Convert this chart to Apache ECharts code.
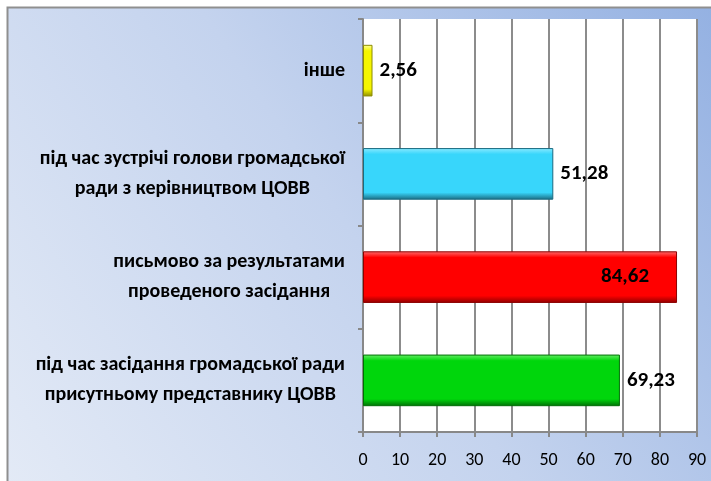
<!DOCTYPE html>
<html>
<head>
<meta charset="utf-8">
<script src="https://cdn.jsdelivr.net/npm/echarts@6/dist/echarts.min.js"></script>
<style>
html,body{margin:0;padding:0;background:#fff;}
#chart{width:711px;height:481px;}
</style>
</head>
<body>
<div id="chart"></div>
<script>
// Data (top to bottom as shown)
var categories = [
  'інше',
  'під час зустрічі голови громадської\nради з керівництвом ЦОВВ',
  'письмово за результатами\nпроведеного засідання',
  'під час засідання громадської ради\nприсутньому представнику ЦОВВ'
];
var values = [2.56, 51.28, 84.62, 69.23];
var labelInside = [false, false, true, false];
var xTicks = [0, 10, 20, 30, 40, 50, 60, 70, 80, 90];

var palette = [
  {light: '#ffff99', main: '#f5f500', dark: '#8c8c00'},
  {light: '#8ceaff', main: '#38d6fb', dark: '#1a6a80'},
  {light: '#ff7070', main: '#ff0000', dark: '#8c0000'},
  {light: '#66ee66', main: '#00d60c', dark: '#006e06'}
];

var FONT = "Carlito, 'Liberation Sans Narrow', 'Open Sans', sans-serif";

function grad(c) {
  return new echarts.graphic.LinearGradient(0, 0, 0, 1, [
    {offset: 0, color: c.light},
    {offset: 0.12, color: c.main},
    {offset: 0.86, color: c.main},
    {offset: 1, color: c.dark}
  ]);
}

var seriesData = values.map(function (v, i) {
  return {
    value: v,
    itemStyle: {color: grad(palette[i]), borderColor: palette[i].dark, borderWidth: 1},
    label: labelInside[i] ? {position: 'insideRight', distance: 28} : {position: 'right', distance: 7}
  };
});

var chart = echarts.init(document.getElementById('chart'), null, {renderer: 'canvas'});
chart.setOption({
  backgroundColor: '#ffffff',
  animation: false,
  graphic: [{
    type: 'rect',
    z: -10,
    silent: true,
    shape: {x: 7.5, y: 7.5, width: 706, height: 476},
    style: {
      fill: new echarts.graphic.LinearGradient(1, 0, 0, 1, [
        {offset: 0, color: '#94b1e2'},
        {offset: 0.5, color: '#c4d3ee'},
        {offset: 1, color: '#e3eaf6'}
      ]),
      stroke: '#8f8f8f',
      lineWidth: 2
    }
  }],
  grid: {
    left: 363, right: 14, top: 19, bottom: 49,
    show: true, backgroundColor: '#ffffff', borderWidth: 0,
    containLabel: false
  },
  xAxis: {
    type: 'value',
    min: 0, max: 90, interval: 10,
    axisLine: {show: true, lineStyle: {color: '#888888', width: 2}},
    axisTick: {show: true, length: 5, lineStyle: {color: '#888888', width: 2}},
    splitLine: {show: true, lineStyle: {color: '#8c8c8c', width: 2}},
    axisLabel: {
      margin: 19, color: '#000', fontSize: 18, fontFamily: FONT,
      formatter: function (v) { return xTicks.indexOf(v) >= 0 ? String(v) : ''; }
    }
  },
  yAxis: {
    type: 'category',
    inverse: true,
    data: categories,
    axisLine: {show: true, lineStyle: {color: '#888888', width: 2}},
    axisTick: {show: true, length: 5, lineStyle: {color: '#888888', width: 2}},
    axisLabel: {
      margin: 18,
      align: 'right',
      formatter: function (v) {
        return v.split('\n').map(function (l) { return '{c|' + l + '}'; }).join('\n');
      },
      rich: {
        c: {align: 'center', fontSize: 20, fontWeight: 'bold', fontFamily: FONT, color: '#000', lineHeight: 30}
      }
    }
  },
  series: [{
    type: 'bar',
    data: seriesData,
    barWidth: '50%',
    label: {
      show: true,
      color: '#000',
      fontSize: 21,
      fontWeight: 'bold',
      fontFamily: FONT,
      formatter: function (p) { return p.value.toFixed(2).replace('.', ','); }
    }
  }]
});
</script>
</body>
</html>
